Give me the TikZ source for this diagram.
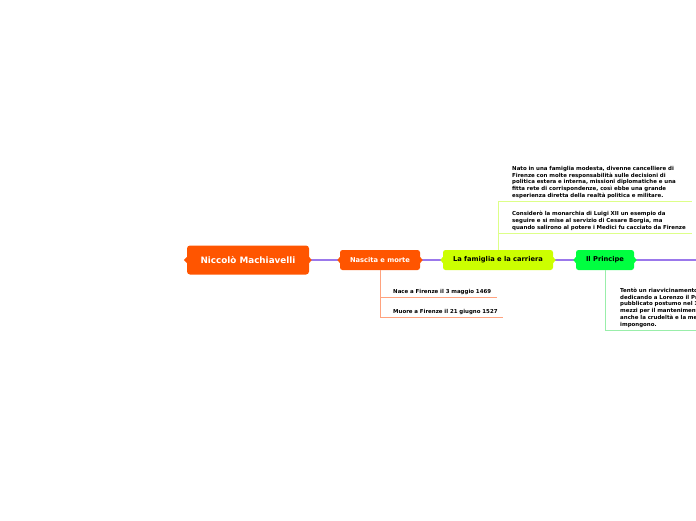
\documentclass[tikz,border=0pt]{standalone}
\usepackage{fontspec}
\setmainfont{DejaVu Sans}
\definecolor{mainorange}{HTML}{FF5500}
\definecolor{limeg}{HTML}{CCFF00}
\definecolor{brightg}{HTML}{00FF40}
\definecolor{conn}{RGB}{155,120,235}
\definecolor{orline}{HTML}{FFA27E}
\definecolor{limeline}{HTML}{DDFF88}
\definecolor{grline}{HTML}{99EEAA}
\tikzset{
  topicbox/.style={rounded corners=2.5pt, minimum height=20pt, inner sep=0pt,
    font=\fontsize{6.7}{8}\selectfont\bfseries},
  connline/.style={draw=conn, line width=1.4pt},
  subtext/.style={anchor=south west, inner xsep=0pt, inner ysep=2.4pt, align=left,
    font=\fontsize{5.45}{6.75}\selectfont\bfseries},
  branch/.style={line width=0.9pt},
}
\begin{document}
\begin{tikzpicture}[x=1pt,y=-1pt]
\useasboundingbox (0,0) rectangle (696,520);
\clip (0,0) rectangle (696,520);
\fill[white] (0,0) rectangle (696,520);

\coordinate (endr) at (700,260);

% topics
\node[rounded corners=3pt, fill=mainorange, text=white, minimum width=122pt, minimum height=29pt, inner sep=0pt,
  font=\fontsize{8.8}{10.5}\selectfont\bfseries] (main) at (248,260) {Niccolò Machiavelli};
\node[topicbox, fill=mainorange, text=white, minimum width=80pt] (nasc) at (380,260) {Nascita e morte};
\node[topicbox, fill=limeg, minimum width=110pt] (fam) at (498,260) {La famiglia e la carriera};
\node[topicbox, fill=brightg, minimum width=58pt] (prin) at (605,260) {Il Principe};

\draw[connline] (main.east) -- (nasc.west);
\draw[connline] (nasc.east) -- (fam.west);
\draw[connline] (fam.east) -- (prin.west);
\draw[connline] (prin.east) -- (endr);

% small flares
\fill[mainorange] ([yshift=-3pt]main.west) -- ([xshift=-3pt]main.west) -- ([yshift=3pt]main.west) -- cycle;
\fill[mainorange] ([yshift=-3pt]main.east) -- ([xshift=2.5pt]main.east) -- ([yshift=3pt]main.east) -- cycle;
\fill[mainorange] ([yshift=-3pt]nasc.west) -- ([xshift=-2.5pt]nasc.west) -- ([yshift=3pt]nasc.west) -- cycle;
\fill[mainorange] ([yshift=-3pt]nasc.east) -- ([xshift=2.5pt]nasc.east) -- ([yshift=3pt]nasc.east) -- cycle;
\fill[limeg] ([yshift=-3pt]fam.west) -- ([xshift=-2.5pt]fam.west) -- ([yshift=3pt]fam.west) -- cycle;
\fill[limeg] ([yshift=-3pt]fam.east) -- ([xshift=2.5pt]fam.east) -- ([yshift=3pt]fam.east) -- cycle;
\fill[brightg] ([yshift=-3pt]prin.west) -- ([xshift=-2.5pt]prin.west) -- ([yshift=3pt]prin.west) -- cycle;
\fill[brightg] ([yshift=-3pt]prin.east) -- ([xshift=2.5pt]prin.east) -- ([yshift=3pt]prin.east) -- cycle;

% Nascita e morte subtopics
\node[subtext, text width=104pt] (t1) at (393,297.5) {Nace a Firenze il 3 maggio 1469};
\node[subtext, text width=110pt] (t2) at (393,317.5) {Muore a Firenze il 21 giugno 1527};
\draw[branch, orline] (nasc.south) |- (t1.south east);
\draw[branch, orline] (nasc.south) |- (t2.south east);

% Famiglia subtopics
\node[subtext, text width=180pt] (b1) at (512,201) {Nato in una famiglia modesta, divenne cancelliere di\\
Firenze con molte responsabilità sulle decisioni di\\
politica estera e interna, missioni diplomatiche e una\\
fitta rete di corrispondenze, così ebbe una grande\\
esperienza diretta della realtà politica e militare.};
\node[subtext, text width=180pt] (b2) at (512,233) {Considerò la monarchia di Luigi XII un esempio da\\
seguire e si mise al servizio di Cesare Borgia, ma\\
quando salirono al potere i Medici fu cacciato da Firenze};
\draw[branch, limeline] (fam.north) |- (b1.south east);
\draw[branch, limeline] (fam.north) |- (b2.south east);

% Il Principe subtopic (cut by the right edge, as in the reference)
\node[subtext, text width=200pt] (p1) at (620,330) {Tentò un riavvicinamento ai Medici\\
dedicando a Lorenzo il Principe,\\
pubblicato postumo nel 1532, dove i\\
mezzi per il mantenimento del potere\\
anche la crudeltà e la menzogna se lo\\
impongono.};
\draw[branch, grline] (prin.south) |- (p1.south east);
\end{tikzpicture}
\end{document}
